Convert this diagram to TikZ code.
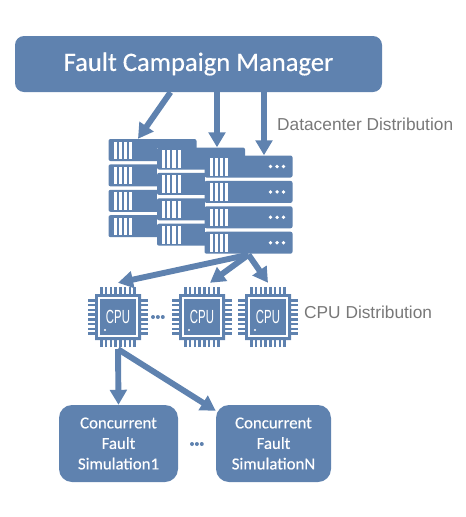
\documentclass[tikz,border=0pt]{standalone}
\usepackage{fontspec}
\setmainfont{Carlito}
\newfontfamily\labelfont{Liberation Sans}
\newfontfamily\boxfont[FakeBold=0.35]{Carlito}
\usetikzlibrary{arrows.meta,positioning,shapes.misc}
\definecolor{SteelBlue}{RGB}{95,130,175}
\definecolor{LabelGray}{RGB}{120,120,120}
\tikzset{
  manager/.style={fill=SteelBlue,rounded corners=9pt,minimum width=367pt,minimum height=56pt,
    text=white,font=\boxfont\fontsize{26.6}{30}\selectfont},
  simbox/.style={fill=SteelBlue,rounded corners=13pt,minimum height=77pt,align=center,
    text=white,font=\boxfont\fontsize{16.8}{20.5}\selectfont},
  rack/.style={minimum width=88pt,minimum height=99pt,inner sep=0pt},
  rackrow/.style={fill=SteelBlue,rounded corners=2pt},
  cpuouter/.style={chamfered rectangle,chamfered rectangle corners=all,chamfered rectangle sep=8pt,
    fill=SteelBlue,minimum size=46pt,inner sep=0pt},
  cpucore/.style={chamfered rectangle,chamfered rectangle corners=all,chamfered rectangle sep=6.5pt,
    fill=SteelBlue,draw=white,line width=1.8pt,minimum size=38.5pt,inner sep=0pt},
  pin/.style={SteelBlue,line width=2.3pt},
  cputext/.style={text=white,font=\labelfont\fontsize{19}{19}\selectfont,xscale=0.6,inner sep=0pt},
  grouplabel/.style={text=LabelGray,font=\labelfont\fontsize{17.3}{19}\selectfont,anchor=west,inner sep=0pt},
  dotmark/.style={circle,fill=SteelBlue,minimum size=4pt,inner sep=0pt},
  arrow/.style={-{Triangle[width=16.5pt,length=15pt]},line width=5.9pt,SteelBlue}
}

\begin{document}
\begin{tikzpicture}[x=1pt,y=1pt]
  \useasboundingbox (0,0) rectangle (466,-517);
  \node[manager] (fcm) at (198.5,-64) {Fault Campaign Manager};
  % racks, back to front
  \foreach \name/\x/\y in {rackA/152.5/-188.5,rackB/201/-197,rackC/248.5/-205}{
    \node[rack,fill=white] (\name) at (\x,\y) {};
    \foreach \r in {0,1,2,3}{
      \fill[rackrow] (\x-44,\y+49.5-\r*25.4) rectangle ++(88,-22);
      \foreach \b in {5,10.2,15.4,20.6}{
        \fill[white] (\x-44+\b,\y+47-\r*25.4) rectangle ++(3.2,-17.5);
      }
      \foreach \d in {66,72.6,79}{
        \fill[white] (\x-44+\d,\y+38.5-\r*25.4) circle (1.9);
      }
    }
  }
  \node[grouplabel] (dclabel) at (277,-124) {Datacenter Distribution};
  % chips
  \foreach \name/\x in {cpuA/118,cpuB/202,cpuC/268}{
    \foreach \p in {-16.5,-11.8,-7.1,-2.4,2.4,7.1,11.8,16.5}{
      \draw[pin] (\x+\p,-317-30) -- (\x+\p,-317+30);
      \draw[pin] (\x-30,-317+\p) -- (\x+30,-317+\p);
    }
    \node[cpuouter] (\name) at (\x,-317) {};
    \node[cpucore] at (\name) {};
    \node[cputext] at (\x,-317) {CPU};
    \fill[white] (\x-13,-330) circle (1.2);
  }
  \node[dotmark] (dotA) at (153,-317) {};
  \node[dotmark,right=0.5pt of dotA] (dotB) {};
  \node[dotmark,right=0.5pt of dotB] (dotC) {};
  \node[grouplabel] (cpulabel) at (304,-312) {CPU Distribution};
  % simulations
  \node[simbox,minimum width=119pt] (simA) at (118.5,-443.5) {Concurrent\\Fault\\Simulation1};
  \node[simbox,minimum width=115pt] (simB) at (273.5,-443.5) {Concurrent\\Fault\\SimulationN};
  \node[dotmark] (dotD) at (192,-444) {};
  \node[dotmark,right=0.5pt of dotD] (dotE) {};
  \node[dotmark,right=0.5pt of dotE] (dotF) {};
  % connectors
  \draw[arrow] ([xshift=-28pt]fcm.south) -- ([xshift=-14.5pt]rackA.north);
  \draw[arrow] ([xshift=18.5pt]fcm.south) -- ([xshift=16pt]rackB.north);
  \draw[arrow] ([xshift=65.5pt]fcm.south) -- ([xshift=15.5pt]rackC.north);
  \draw[arrow] (rackC.south) -- ([yshift=11pt]cpuA.north);
  \draw[arrow] (rackC.south) -- ([xshift=8pt,yshift=11pt]cpuB.north);
  \draw[arrow] (rackC.south) -- ([yshift=11pt]cpuC.north);
  \draw[arrow] ([yshift=-9pt]cpuA.south) -- (simA.north);
  \draw[arrow] ([yshift=-9pt]cpuA.south) -- ([yshift=-6pt]simB.north west);
\end{tikzpicture}
\end{document}
